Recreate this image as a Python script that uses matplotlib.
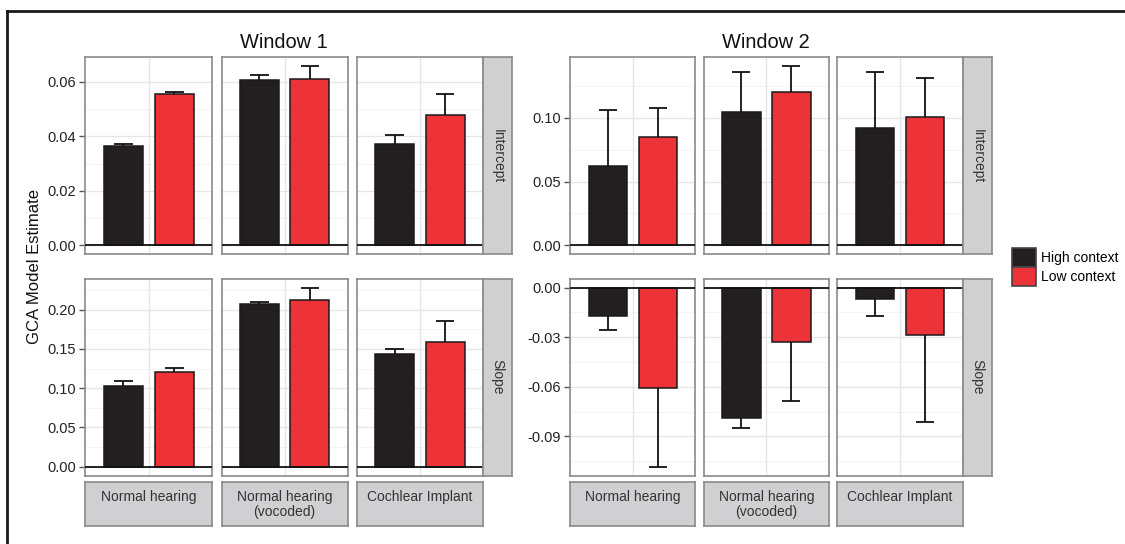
import matplotlib
matplotlib.use('Agg')
import matplotlib.pyplot as plt
from matplotlib.lines import Line2D
from matplotlib.patches import Patch

plt.rcParams['font.family'] = ['Liberation Sans', 'DejaVu Sans']

W, H = 1125, 544

groups = ['Normal hearing', 'Normal hearing\n(vocoded)', 'Cochlear Implant']
conditions = ['High context', 'Low context']
terms = ['Intercept', 'Slope']
windows = ['Window 1', 'Window 2']
colors = ['#231F20', '#EE3338']

# window 1 estimates and standard errors (one per group)
w1_intercept_high = [0.0365, 0.0605, 0.0372]
w1_intercept_high_se = [0.0008, 0.0020, 0.0034]
w1_intercept_low = [0.0554, 0.0609, 0.0477]
w1_intercept_low_se = [0.0008, 0.0048, 0.0077]
w1_slope_high = [0.103, 0.207, 0.143]
w1_slope_high_se = [0.0059, 0.0030, 0.0064]
w1_slope_low = [0.121, 0.212, 0.159]
w1_slope_low_se = [0.0042, 0.0161, 0.0263]

# window 2
w2_intercept_high = [0.0625, 0.1045, 0.0917]
w2_intercept_high_se = [0.0435, 0.0312, 0.0440]
w2_intercept_low = [0.0849, 0.1203, 0.1008]
w2_intercept_low_se = [0.0231, 0.0201, 0.0305]
w2_slope_high = [-0.0171, -0.0790, -0.0068]
w2_slope_high_se = [0.0086, 0.0058, 0.0101]
w2_slope_low = [-0.0607, -0.0326, -0.0287]
w2_slope_low_se = [0.0476, 0.0361, 0.0527]

w1_intercept_ticks = [0.00, 0.02, 0.04, 0.06]
w1_slope_ticks = [0.00, 0.05, 0.10, 0.15, 0.20]
w2_intercept_ticks = [0.00, 0.05, 0.10]
w2_slope_ticks = [0.00, -0.03, -0.06, -0.09]

data = {
    ('Window 1', 'Intercept'): ([w1_intercept_high, w1_intercept_low],
                                [w1_intercept_high_se, w1_intercept_low_se], w1_intercept_ticks),
    ('Window 1', 'Slope'): ([w1_slope_high, w1_slope_low],
                            [w1_slope_high_se, w1_slope_low_se], w1_slope_ticks),
    ('Window 2', 'Intercept'): ([w2_intercept_high, w2_intercept_low],
                                [w2_intercept_high_se, w2_intercept_low_se], w2_intercept_ticks),
    ('Window 2', 'Slope'): ([w2_slope_high, w2_slope_low],
                            [w2_slope_high_se, w2_slope_low_se], w2_slope_ticks),
}

# pixel layout
col_x = {
    'Window 1': [(85.3, 212.3), (221.5, 347.8), (356.7, 483.0)],
    'Window 2': [(570.3, 695.3), (703.8, 828.8), (837.3, 962.7)],
}
strip_x = {'Window 1': (483.0, 512.3), 'Window 2': (962.7, 992.3)}
title_x = {'Window 1': 284, 'Window 2': 766}
row_y = [(57.3, 254.3), (278.7, 475.7)]
bstrip_y = (482.3, 526.3)

border_col = '#8a8a8a'
strip_fill = '#D0D0D2'


def box(x0, y0, x1, y1):
    return [x0 / W, 1 - y1 / H, (x1 - x0) / W, (y1 - y0) / H]


def style_box(ax):
    for s in ax.spines.values():
        s.set_color(border_col)
        s.set_linewidth(1.2)


fig = plt.figure(figsize=(W / 100, H / 100), dpi=100)

for win in windows:
    for r, term in enumerate(terms):
        vals, ses, ticks = data[(win, term)]
        tips = [0.0]
        for v_list, s_list in zip(vals, ses):
            for v, s in zip(v_list, s_list):
                tips.append(v + s if v >= 0 else v - s)
        lo, hi = min(tips), max(tips)
        pad = 0.05 * (hi - lo)
        step = ticks[1] - ticks[0]
        minors = [t + step / 2 for t in ticks] + [ticks[0] - step / 2]

        for c, g in enumerate(groups):
            x0, x1 = col_x[win][c]
            y0, y1 = row_y[r]
            ax = fig.add_axes(box(x0, y0, x1, y1))
            ax.set_xlim(0.4, 1.6)
            ax.set_ylim(lo - pad, hi + pad)
            for m in minors:
                ax.axhline(m, color='#F3F3F3', lw=0.8, zorder=0)
            for t in ticks:
                ax.axhline(t, color='#E6E6E6', lw=1.0, zorder=0)
            ax.axvline(1, color='#E6E6E6', lw=1.0, zorder=0)

            for k in range(2):
                xk = 1 + (k - 0.5) * 0.48
                v = vals[k][c]
                s = ses[k][c]
                tip = v + s if v >= 0 else v - s
                ax.bar(xk, v, width=0.37, color=colors[k], edgecolor='#1a1a1a',
                       linewidth=1.1, zorder=2)
                ax.vlines(xk, v, tip, color='#111111', lw=1.3, zorder=3)
                ax.hlines(tip, xk - 0.088, xk + 0.088, color='#111111', lw=1.3, zorder=3)
            ax.axhline(0, color='#111111', lw=1.3, zorder=4)

            ax.set_xticks([])
            ax.set_yticks(ticks)
            if c == 0:
                ax.set_yticklabels(['%.2f' % t for t in ticks])
                ax.tick_params(axis='y', length=4, width=1, color='#555555', pad=2.5,
                               labelsize=10.5, labelcolor='#222222')
            else:
                ax.tick_params(axis='y', length=0, labelleft=False)
            style_box(ax)

        # right strip
        sx0, sx1 = strip_x[win]
        sax = fig.add_axes(box(sx0, row_y[r][0], sx1, row_y[r][1]))
        sax.set_facecolor(strip_fill)
        sax.set_xticks([])
        sax.set_yticks([])
        style_box(sax)
        sax.text(0.5, 0.5, term, rotation=-90, ha='center', va='center',
                 fontsize=10, color='#333333', transform=sax.transAxes)

    # bottom strips
    for c, g in enumerate(groups):
        x0, x1 = col_x[win][c]
        bax = fig.add_axes(box(x0, bstrip_y[0], x1, bstrip_y[1]))
        bax.set_facecolor(strip_fill)
        bax.set_xticks([])
        bax.set_yticks([])
        style_box(bax)
        bax.text(0.5, 0.83, g, ha='center', va='top', fontsize=10, color='#333333',
                 linespacing=1.15, transform=bax.transAxes)

    fig.text(title_x[win] / W, 1 - 47.7 / H, win, fontsize=14.4, ha='center',
             va='baseline', color='#111111')

fig.text(35 / W, 1 - 266 / H, 'GCA Model Estimate', rotation=90, ha='center',
         va='center', fontsize=12, color='#111111')

handles = [Patch(facecolor=colors[k], edgecolor='#444444', linewidth=1.2, label=conditions[k])
           for k in range(2)]
fig.legend(handles=handles, loc='upper left', bbox_to_anchor=(1011.7 / W, 1 - 247.7 / H),
           frameon=False, fontsize=10, handlelength=1.75, handleheight=1.75,
           labelspacing=0.0, handletextpad=0.35, borderpad=0, borderaxespad=0)

# frame lines on top and left
fig.add_artist(Line2D([7.3 / W, 7.3 / W], [0, 1 - 10.7 / H], transform=fig.transFigure,
                      color='#1a1a1a', lw=2.0))
fig.add_artist(Line2D([7.3 / W, 1], [1 - 10.7 / H, 1 - 10.7 / H], transform=fig.transFigure,
                      color='#1a1a1a', lw=2.0))

fig.savefig('out.png', dpi=100)
